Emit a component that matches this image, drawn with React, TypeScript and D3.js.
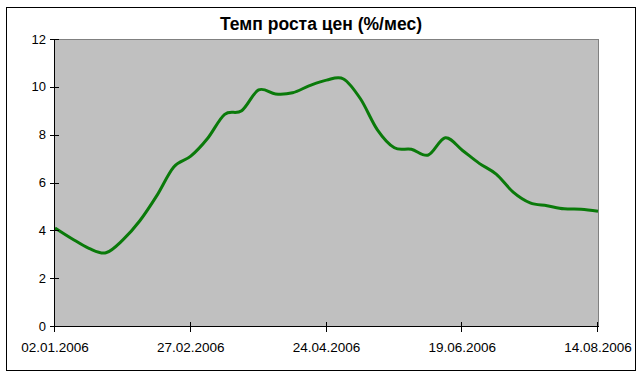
import React from "react";
import * as d3 from "d3";

const title = "Темп роста цен (%/мес)";
const weekIndex = d3.range(33);
const values = [
  4.1, 3.65, 3.25, 3.06, 3.6, 4.4, 5.45, 6.65, 7.1, 7.85, 8.85, 9.0, 9.87, 9.7, 9.75, 10.05,
  10.28, 10.33, 9.5, 8.2, 7.45, 7.39, 7.15, 7.87, 7.35, 6.8, 6.35, 5.6, 5.15, 5.03, 4.9, 4.88, 4.8,
];
const xTickIndex = [0, 8, 16, 24, 32];
const xTickLabels = ["02.01.2006", "27.02.2006", "24.04.2006", "19.06.2006", "14.08.2006"];
const yTicks = [0, 2, 4, 6, 8, 10, 12];

export default function App() {
  const W = 642, H = 379;
  const left = 55, right = 598, top = 39, bottom = 326;
  const x = d3.scaleLinear().domain([0, 32]).range([left, right]);
  const y = d3.scaleLinear().domain([0, 12]).range([bottom, top]);
  const line = d3
    .line<number>()
    .x((_, i) => x(weekIndex[i]))
    .y((d) => y(d))
    .curve(d3.curveCatmullRom.alpha(0));
  const font = "Arial, 'Liberation Sans', sans-serif";
  return (
    <svg width={W} height={H} style={{ position: "absolute", left: 0, top: 0 }}>
      <rect x={0} y={0} width={W} height={H} fill="#fff" />
      <rect x={6.5} y={7.5} width={629} height={363} fill="#fff" stroke="#000" strokeWidth={1} />
      <text x={321} y={30} textAnchor="middle" fontFamily={font} fontWeight="bold" fontSize={17.5} fill="#000">
        {title}
      </text>
      <rect x={left} y={top} width={right - left} height={bottom - top} fill="#c0c0c0" />
      <line x1={left} x2={right} y1={top + 0.5} y2={top + 0.5} stroke="#808080" />
      <line x1={right + 0.5} x2={right + 0.5} y1={top} y2={bottom} stroke="#808080" />
      <path d={line(values) || ""} fill="none" stroke="#0a7a0a" strokeWidth={3} strokeLinejoin="round" />
      <line x1={left - 0.5} x2={left - 0.5} y1={top} y2={bottom} stroke="#000" />
      <line x1={left} x2={right + 1} y1={bottom + 0.5} y2={bottom + 0.5} stroke="#000" />
      {yTicks.map((t) => (
        <g key={t}>
          <line x1={left - 5} x2={left + 4} y1={Math.round(y(t)) + 0.5} y2={Math.round(y(t)) + 0.5} stroke="#000" />
          <text x={46} y={y(t) + 4.5} textAnchor="end" fontFamily={font} fontSize={13} fill="#000">
            {t}
          </text>
        </g>
      ))}
      {xTickIndex.map((t, i) => (
        <g key={t}>
          <line x1={Math.round(x(t)) - 0.5} x2={Math.round(x(t)) - 0.5} y1={bottom - 4} y2={bottom + 6} stroke="#000" />
          <text x={x(t)} y={352} textAnchor="middle" fontFamily={font} fontSize={13.5} fill="#000">
            {xTickLabels[i]}
          </text>
        </g>
      ))}
    </svg>
  );
}
